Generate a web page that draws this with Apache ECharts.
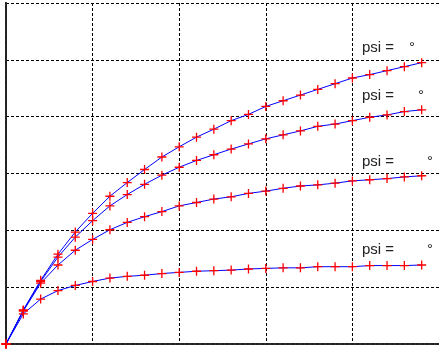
<!DOCTYPE html>
<html>
<head>
<meta charset="utf-8">
<script src="https://cdn.jsdelivr.net/npm/echarts@6/dist/echarts.min.js"></script>
<style>html,body{margin:0;padding:0;background:#fff}#c{width:439px;height:349px}</style>
</head>
<body>
<div id="c"></div>
<script>
const xValues = [0, 0.2, 0.4, 0.6, 0.8, 1.0, 1.2, 1.4, 1.6, 1.8, 2.0, 2.2, 2.4, 2.6, 2.8, 3.0, 3.2, 3.4, 3.6, 3.8, 4.0, 4.2, 4.4, 4.6, 4.8];
const curve1 = [0, 0.60, 1.12, 1.58, 1.97, 2.30, 2.60, 2.84, 3.07, 3.29, 3.47, 3.64, 3.78, 3.93, 4.04, 4.18, 4.28, 4.38, 4.48, 4.58, 4.68, 4.74, 4.81, 4.88, 4.95];
const curve2 = [0, 0.59, 1.10, 1.53, 1.88, 2.17, 2.43, 2.63, 2.81, 2.97, 3.11, 3.23, 3.33, 3.43, 3.52, 3.61, 3.68, 3.75, 3.83, 3.87, 3.93, 3.99, 4.03, 4.09, 4.12];
const curve3 = [0, 0.58, 1.07, 1.39, 1.65, 1.84, 2.01, 2.14, 2.24, 2.33, 2.43, 2.49, 2.55, 2.59, 2.65, 2.69, 2.74, 2.78, 2.80, 2.83, 2.87, 2.89, 2.91, 2.94, 2.96];
const curve4 = [0, 0.53, 0.79, 0.94, 1.03, 1.10, 1.16, 1.19, 1.21, 1.24, 1.26, 1.28, 1.29, 1.30, 1.32, 1.33, 1.34, 1.34, 1.36, 1.36, 1.36, 1.38, 1.38, 1.38, 1.39];
const labelText = "psi =";
const degreeText = "°";

const chart = echarts.init(document.getElementById('c'), null, {renderer: 'canvas'});
const dash = {type: [3, 2], color: '#000', width: 1};
const border = {show: true, lineStyle: {type: [3, 2], color: '#222', width: 2}};
function mk(vals) {
  return {
    type: 'line',
    data: xValues.map((x, i) => [x, vals[i]]),
    lineStyle: {color: '#0000ff', width: 1},
    symbol: 'path://M0,5L10,5M5,0L5,10',
    symbolSize: 9,
    itemStyle: {color: '#ff0000', borderColor: '#ff0000', borderWidth: 1.3},
    showAllSymbol: true,
    animation: false,
    z: 3
  };
}
const hidden = {axisLabel: {show: false}, axisTick: {show: false}};
chart.setOption({
  animation: false,
  grid: {left: 6, top: 3, width: 434, height: 341, containLabel: false},
  xAxis: [
    Object.assign({type: 'value', min: 0, max: 5, interval: 1, position: 'bottom',
      axisLine: border, splitLine: {show: true, lineStyle: dash}}, hidden),
    Object.assign({type: 'value', min: 0, max: 5, interval: 1, position: 'top',
      axisLine: border, splitLine: {show: false}}, hidden)
  ],
  yAxis: [
    Object.assign({type: 'value', min: 0, max: 6, interval: 1, position: 'left',
      axisLine: border, splitLine: {show: true, lineStyle: dash}}, hidden),
    Object.assign({type: 'value', min: 0, max: 6, interval: 1, position: 'right',
      axisLine: border, splitLine: {show: false}}, hidden)
  ],
  series: [mk(curve1), mk(curve2), mk(curve3), mk(curve4)],
  graphic: [
    {type: 'text', x: 362, y: 48, style: {text: labelText, font: '15px "Liberation Sans", Arial, sans-serif', fill: '#222', verticalAlign: 'middle'}},
    {type: 'text', x: 409, y: 48, style: {text: degreeText, font: '15px "Liberation Sans", Arial, sans-serif', fill: '#222', verticalAlign: 'middle'}},
    {type: 'text', x: 362, y: 96, style: {text: labelText, font: '15px "Liberation Sans", Arial, sans-serif', fill: '#222', verticalAlign: 'middle'}},
    {type: 'text', x: 418, y: 96, style: {text: degreeText, font: '15px "Liberation Sans", Arial, sans-serif', fill: '#222', verticalAlign: 'middle'}},
    {type: 'text', x: 362, y: 162, style: {text: labelText, font: '15px "Liberation Sans", Arial, sans-serif', fill: '#222', verticalAlign: 'middle'}},
    {type: 'text', x: 427, y: 162, style: {text: degreeText, font: '15px "Liberation Sans", Arial, sans-serif', fill: '#222', verticalAlign: 'middle'}},
    {type: 'text', x: 362, y: 250, style: {text: labelText, font: '15px "Liberation Sans", Arial, sans-serif', fill: '#222', verticalAlign: 'middle'}},
    {type: 'text', x: 427, y: 250, style: {text: degreeText, font: '15px "Liberation Sans", Arial, sans-serif', fill: '#222', verticalAlign: 'middle'}}
  ]
});
</script>
</body>
</html>
